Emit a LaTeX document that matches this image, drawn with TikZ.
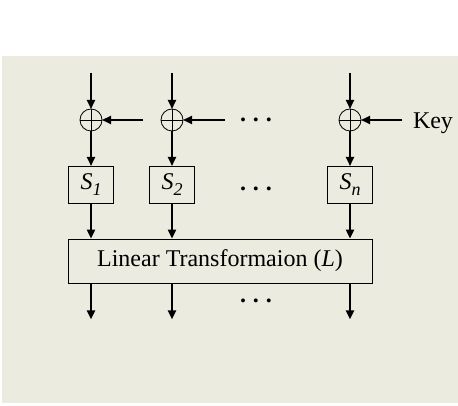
\documentclass[tikz,border=0pt]{standalone}
\usepackage{fontspec}
\setmainfont{Liberation Serif}
\usepackage{tikz}
\usetikzlibrary{shapes,arrows.meta}
\usetikzlibrary{positioning}
\definecolor{paper}{RGB}{235,235,224}
\newcommand{\sboxidx}[1]{\raisebox{-6pt}{\fontsize{18}{18}\selectfont\itshape #1}}
\newcommand{\gapdots}{\textbf{.}\hspace{7pt}\textbf{.}\hspace{7pt}\textbf{.}}
\tikzset{xor node/.style={circle,draw,line width=0.8pt,minimum size=22pt,inner sep=0pt,outer sep=0pt},
  sbox node/.style={rectangle,draw,line width=0.8pt,minimum width=45pt,minimum height=37pt,inner sep=0pt,outer sep=0pt},  }

\begin{document}
\begin{tikzpicture}[x=1pt,y=1pt,line width=2pt,>={Triangle[length=9pt,width=8pt]},
        font=\fontsize{24}{28}\selectfont]
    \useasboundingbox (0,0) rectangle (458,406);
    \fill[paper] (2,3) rectangle (458,350);

    \node[xor node] (x1) at (91,286) {};
    \node[xor node] (x2) [right=59pt of x1] {};
    \node[xor node] (xn) [right=156pt of x2] {};
    \foreach \i in {1,2,n}
      \draw[line width=0.6pt] (x\i.north) -- (x\i.south) (x\i.west) -- (x\i.east);

    \node[sbox node] (s1) [below=35pt of x1] {\textit{S}\sboxidx{1}};
    \node[sbox node] (s2) [below=35pt of x2] {\textit{S}\sboxidx{2}};
    \node[sbox node] (sn) [below=35pt of xn] {\textit{S}\sboxidx{n}};

    \node[rectangle,draw,line width=0.8pt,minimum width=304pt,minimum height=44pt,inner sep=0pt] (L)
      at (220,145) {Linear Transformaion (\textit{L})};

    \node[inner sep=10pt,yshift=-3pt] (key) [right=41pt of xn] {Key};

    % free ends
    \coordinate[above=36pt of x1] (in1);
    \coordinate[above=36pt of x2] (in2);
    \coordinate[above=36pt of xn] (inn);
    \coordinate[right=41pt of x1] (k1);
    \coordinate[right=42pt of x2] (k2);
    \foreach \i in {1,2,n}
      \path (s\i |- L.south) ++(0,-36) coordinate (o\i);

    \foreach \i in {1,2,n}{
      \draw[->] (in\i) -- (x\i);
      \draw[->] (x\i) -- (s\i);
      \draw[->] (s\i) -- (s\i |- L.north);
      \draw[->] (s\i |- L.south) -- (o\i);
    }
    \draw[->] (k1) -- (x1);
    \draw[->] (k2) -- (x2);
    \draw[->] (key.west |- xn) -- (xn);

    \node (d1) at (256,286) {\gapdots};
    \node (d2) at (256,217) {\gapdots};
    \node (d3) at (256,105) {\gapdots};
\end{tikzpicture}
\end{document}
